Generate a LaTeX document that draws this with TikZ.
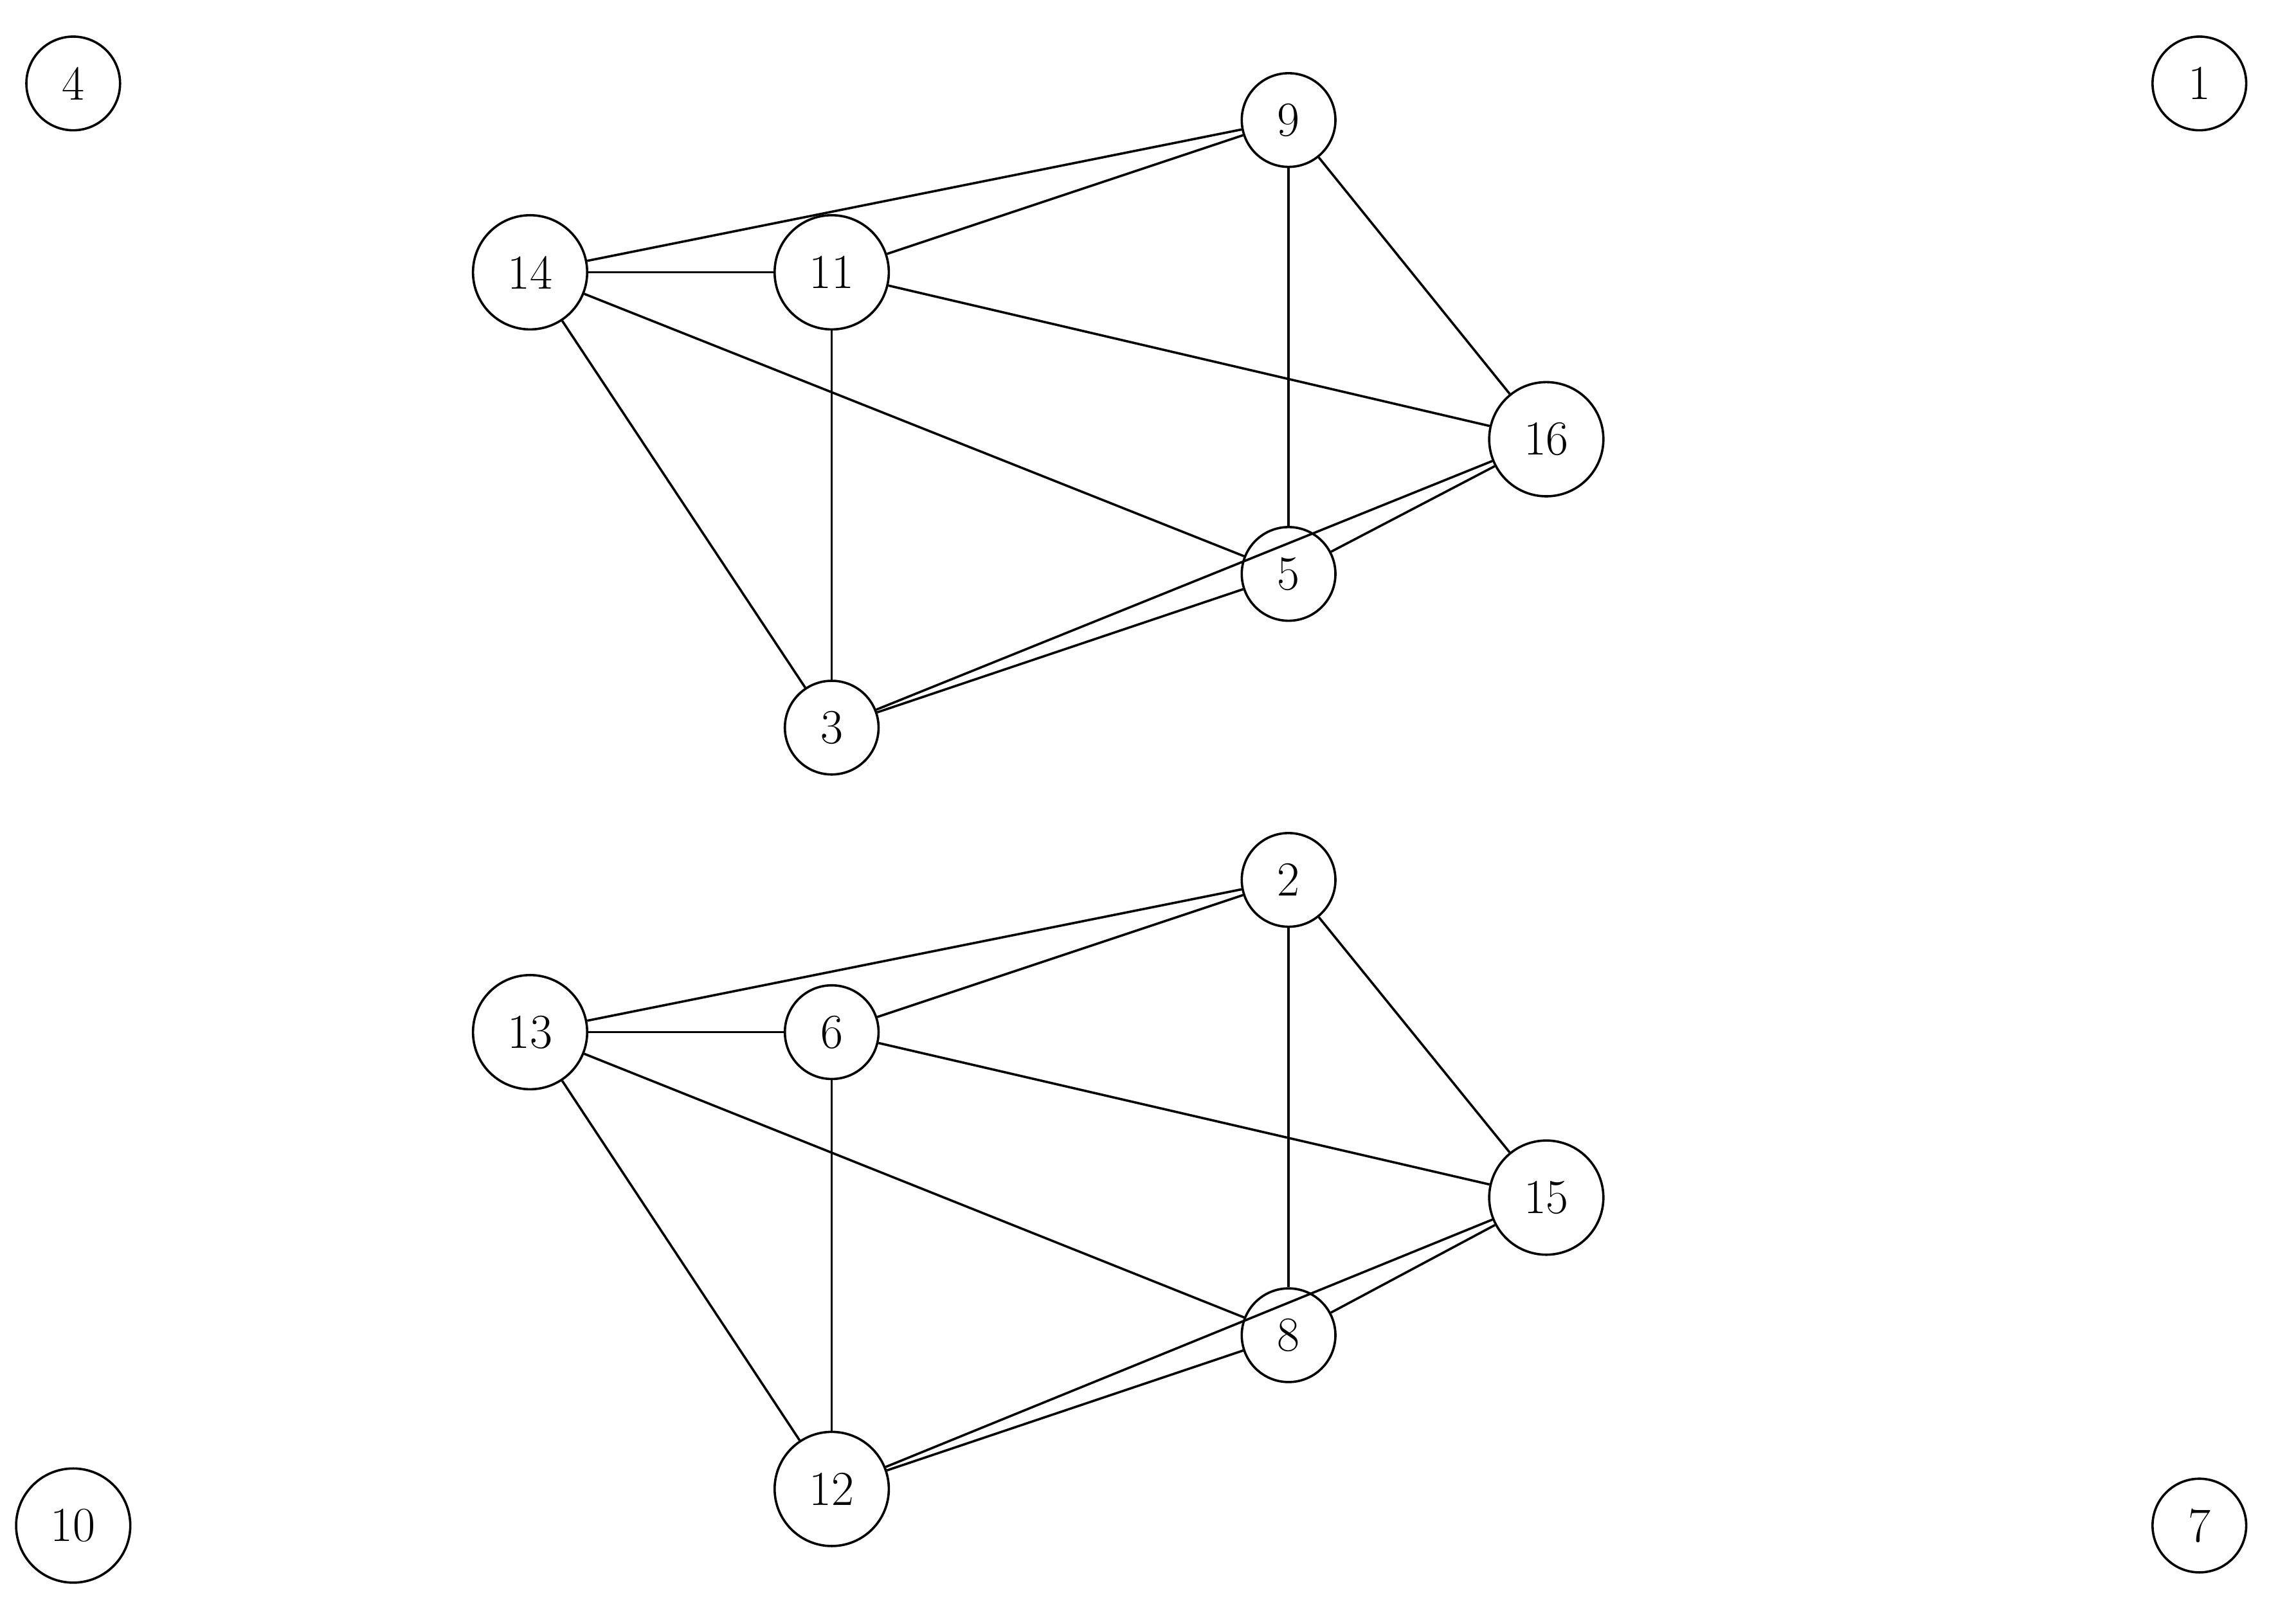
\documentclass[tikz,border=0pt]{standalone}
\begin{document}
\begin{tikzpicture}[x=0.02cm,y=-0.02cm,
  v/.style={circle,draw,line width=0.9pt,minimum size=1.28cm,inner sep=0pt,font=\fontsize{19}{22}\selectfont},
  vb/.style={v,minimum size=1.56cm},
  e/.style={line width=0.9pt}]
\useasboundingbox (0,0) rectangle (1568,1094);
\node[v] (n4) at (50,57) {4};
\node[v] (n1) at (1502,57) {1};
\node[vb] (n10) at (50,1042) {10};
\node[v] (n7) at (1502,1042) {7};
\node[v] (n9) at (880,82) {9};
\node[vb] (n14) at (362,186) {14};
\node[vb] (n11) at (568,186) {11};
\node[vb] (n16) at (1056,300) {16};
\node[v] (n5) at (880,392) {5};
\node[v] (n3) at (568,497) {3};
\node[v] (n2) at (880,601) {2};
\node[vb] (n13) at (362,705) {13};
\node[v] (n6) at (568,705) {6};
\node[vb] (n15) at (1056,818) {15};
\node[v] (n8) at (880,912) {8};
\node[vb] (n12) at (568,1017) {12};
\foreach \a/\b in {14/9,14/11,14/5,14/3,11/9,11/16,11/3,9/5,9/16,16/5,16/3,5/3,
  13/2,13/6,13/8,13/12,6/2,6/15,6/12,2/8,2/15,15/8,15/12,8/12}
  \draw[e] (n\a) -- (n\b);
\end{tikzpicture}
\end{document}
